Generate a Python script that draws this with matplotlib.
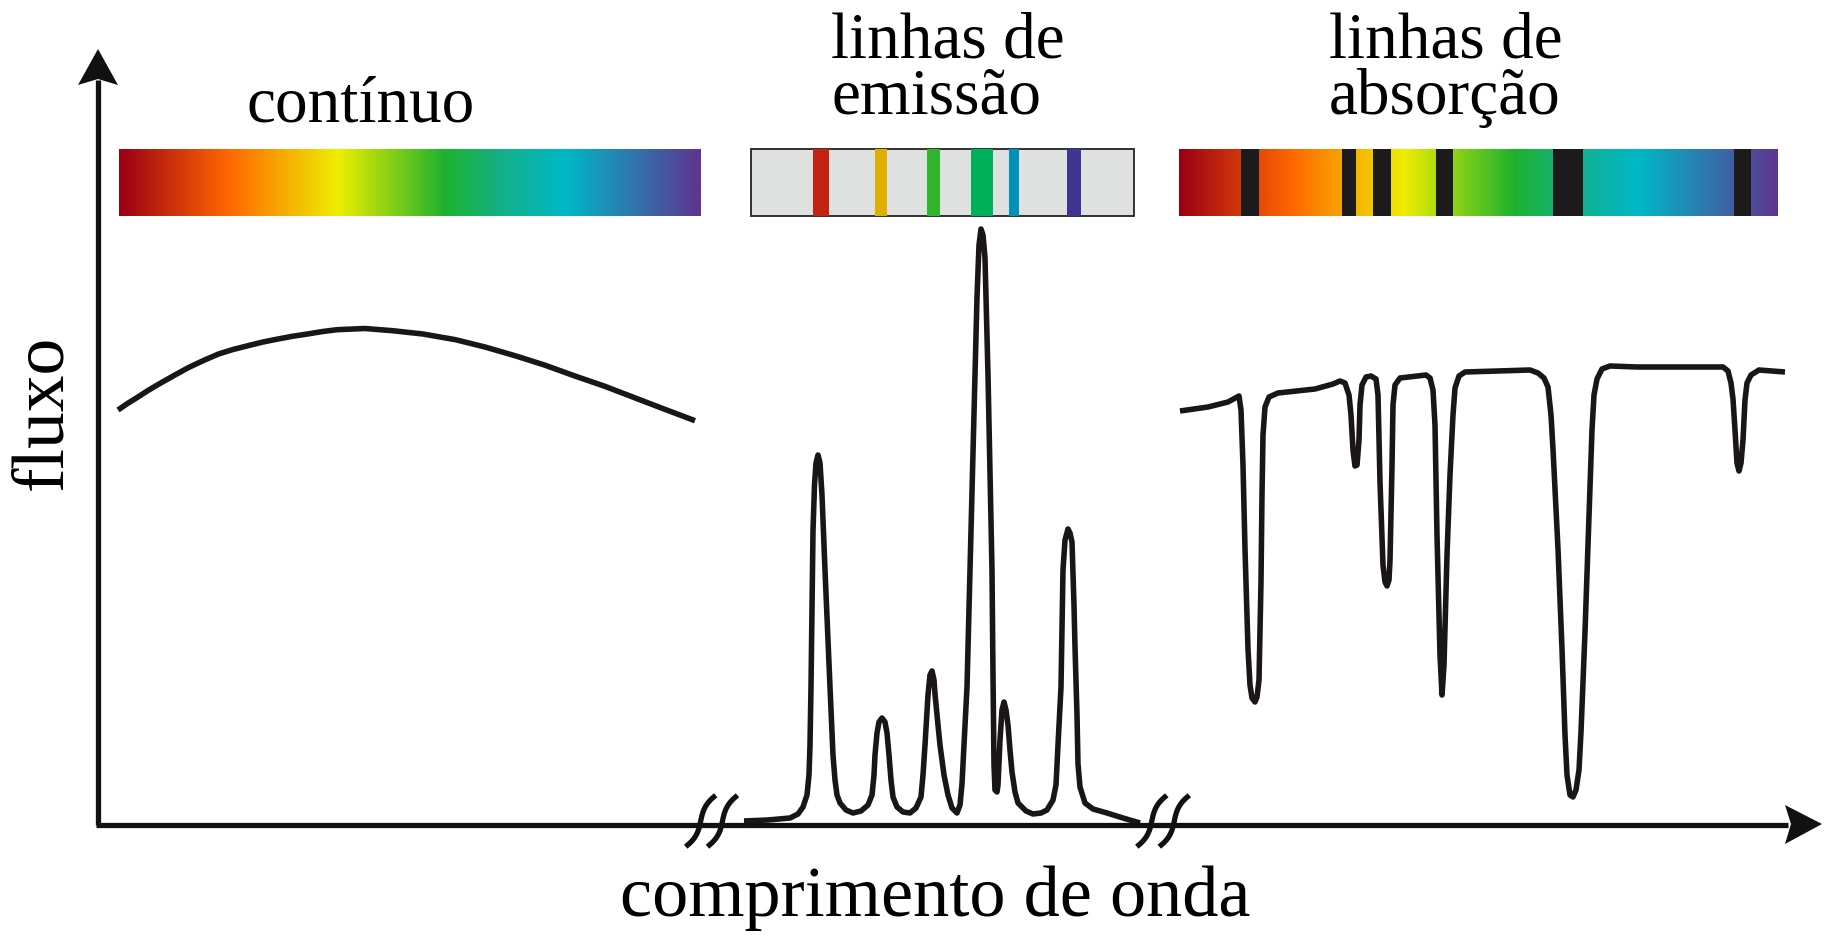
import numpy as np
import matplotlib.pyplot as plt
from matplotlib.colors import LinearSegmentedColormap
from matplotlib.patches import Polygon, Rectangle

plt.rcParams['font.family'] = ['Liberation Serif', 'DejaVu Serif']

# spectrum colour stops (position, colour)
spec_pos = [0.0, 0.185, 0.375, 0.56, 0.66, 0.77, 1.0]
spec_col = ['#9b0015', '#ff6600', '#eeee00', '#1eb22d', '#14b08a', '#00b8c8', '#5e3590']

# continuous spectrum
cont_x = [20, 29.5, 39.5, 50, 61, 76, 91, 105.5, 120.5, 135, 150, 165, 180, 195, 209.5, 224, 239,
          267, 294.5, 325, 357.5, 387, 417, 447, 476, 506, 535.5, 566, 597]
cont_y = [415, 421.5, 427.7, 434.5, 441, 449.5, 457.7, 464.5, 471, 475.5, 479.3, 483, 486, 488.8,
          491, 493.4, 495.3, 496.5, 494.3, 491, 485.3, 478, 469.3, 459.8, 449.3, 439, 427.7, 416, 404.3]

# emission spectrum
emis_x = [646, 670, 692, 700, 705, 709, 711, 712, 713, 715, 716.5, 718, 720, 722, 724, 727, 732,
          735, 737, 739, 742, 748, 755, 763, 770, 774, 776, 777, 779, 781, 784, 787, 789, 791, 793,
          795, 799, 805, 812, 818, 823, 825, 827, 830, 832, 834, 836, 837, 840, 842, 846, 850, 854,
          859, 862, 864, 866, 869, 874, 879, 881, 883, 885, 887, 890, 894, 895, 896, 897, 899, 900,
          902, 904, 906, 908, 910, 912, 914, 917, 920, 928, 935, 943, 949, 955, 958, 960, 963, 965,
          967, 970, 972, 974, 976, 977, 979, 980, 982, 987, 995, 1009, 1025, 1042]
emis_y = [4, 5, 7, 11, 18, 30, 50, 80, 138, 294, 340, 362, 370, 362, 330, 255, 138,
          70, 45, 30, 22, 15, 12, 14, 20, 30, 50, 70, 92, 103, 107, 103, 92, 70, 45,
          28, 18, 13, 12, 17, 28, 50, 80, 130, 150, 154, 145, 131, 100, 80, 50, 30, 17,
          12, 20, 41, 80, 138, 333, 528, 580, 596, 590, 567, 450, 255, 150, 60, 35, 33, 40,
          85, 115, 123, 115, 100, 75, 53, 33, 22, 14, 11, 12, 15, 25, 40, 80, 138, 255,
          285, 296, 292, 283, 220, 178, 110, 61, 38, 22, 16, 12, 7, 2]

# absorption spectrum
abs_x = [1082, 1110, 1130, 1141, 1143, 1145, 1147, 1150, 1152, 1154, 1157, 1159, 1161, 1163, 1164,
         1165, 1167, 1171, 1180, 1217, 1235, 1242, 1247, 1251, 1253, 1255, 1257, 1259, 1261, 1262,
         1264, 1268, 1273, 1278, 1280, 1282, 1285, 1287, 1289, 1291, 1292, 1294, 1295, 1297, 1302,
         1328, 1332, 1335, 1337, 1339, 1342, 1344, 1346, 1349, 1352, 1355, 1357, 1361, 1367, 1432,
         1440, 1446, 1450, 1453, 1455, 1460, 1464, 1467, 1469, 1472, 1475, 1478, 1481, 1483, 1487,
         1491, 1494, 1496, 1499, 1504, 1512, 1539, 1625, 1630, 1633, 1635, 1637, 1639, 1641, 1643,
         1645, 1647, 1649, 1653, 1661, 1687]
abs_y = [414, 418, 423, 429, 415, 360, 276, 176, 140, 127, 123, 128, 145, 243, 330,
         390, 418, 428, 432, 436, 441, 444, 442, 430, 410, 375, 359, 360, 385, 420,
         440, 448, 449, 446, 430, 343, 260, 243, 239, 245, 265, 359, 420, 440, 447,
         450, 447, 435, 400, 290, 170, 130, 160, 270, 350, 410, 437, 449, 453, 455,
         452, 447, 438, 410, 376, 276, 176, 90, 50, 30, 28, 35, 55, 93, 193,
         309, 395, 430, 446, 456, 459, 458, 458, 454, 442, 426, 395, 362, 354, 362,
         385, 425, 442, 450, 455, 453]

# emission lines in the bar: left, right, colour
emis_left = [715, 777, 829, 873, 911, 969]
emis_right = [731, 789, 842, 895, 921, 983]
emis_col = ['#c42314', '#dfae00', '#31b52c', '#00af5a', '#0090b8', '#3e3491']

# absorption bands in the bar
abs_left = [1143, 1244, 1275, 1338, 1455, 1636]
abs_right = [1161, 1258, 1293, 1355, 1485, 1653]

# spectrum bars (left, right)
bar_x = [(21, 602.5), (653, 1036), (1080.7, 1679.5)]
bar_y = (609, 676)

# axis breaks
breaks = [602.7, 624.5, 1053.8, 1076.3]

fig = plt.figure(figsize=(18.27, 9.37), dpi=100)
ax = fig.add_axes([0, 0, 1, 1])
ax.axis('off')

spec_cmap = LinearSegmentedColormap.from_list('spec', list(zip(spec_pos, spec_col)))
grad = np.linspace(0, 1, 600).reshape(1, -1)

# continuum bar
ax.imshow(grad, cmap=spec_cmap, extent=[bar_x[0][0], bar_x[0][1], bar_y[0], bar_y[1]],
          aspect='auto', interpolation='bilinear', zorder=1)

# emission bar
ax.add_patch(Rectangle((bar_x[1][0], bar_y[0]), bar_x[1][1] - bar_x[1][0], bar_y[1] - bar_y[0],
                       facecolor='#dfe0e0', edgecolor='#222222', lw=1.3, zorder=1))
for l, r, c in zip(emis_left, emis_right, emis_col):
    ax.bar((l + r) / 2, bar_y[1] - bar_y[0], width=r - l, bottom=bar_y[0], color=c, zorder=2)

# absorption bar
ax.imshow(grad, cmap=spec_cmap, extent=[bar_x[2][0], bar_x[2][1], bar_y[0], bar_y[1]],
          aspect='auto', interpolation='bilinear', zorder=1)
for l, r in zip(abs_left, abs_right):
    ax.bar((l + r) / 2, bar_y[1] - bar_y[0], width=r - l, bottom=bar_y[0], color='#1c1a1a', zorder=2)

# spectra
kw = dict(color='#1a1616', lw=4.0, solid_joinstyle='round', solid_capstyle='butt', zorder=3)
ax.plot(cont_x, cont_y, **kw)
ax.plot(emis_x, emis_y, **kw)
ax.plot(abs_x, abs_y, **kw)

# axes with arrows
ax.plot([0, 0], [0, 745], color='#111111', lw=3.8, solid_capstyle='butt', zorder=3)
ax.plot([-2, 1690], [0, 0], color='#111111', lw=3.8, solid_capstyle='butt', zorder=3)
ax.add_patch(Polygon([(0, 776), (-20, 740), (0, 746), (20, 740)], closed=True,
                     facecolor='#111111', edgecolor='none', zorder=4))
ax.add_patch(Polygon([(1724, 1), (1687, 20), (1693, 1), (1687, -19)], closed=True,
                     facecolor='#111111', edgecolor='none', zorder=4))

# break marks
t = np.linspace(-1, 1, 40)
for b in breaks:
    ax.plot(b + 5 * t + 8 * t ** 3, 4 + 24 * t, color='#111111', lw=3.8, zorder=4)

# labels
ax.text(263, 705, 'contínuo', fontsize=47, ha='center', va='baseline')
ax.text(733, 768, 'linhas de', fontsize=47, ha='left', va='baseline')
ax.text(733, 712, 'emissão', fontsize=47, ha='left', va='baseline')
ax.text(1231, 768, 'linhas de', fontsize=47, ha='left', va='baseline')
ax.text(1231, 712, 'absorção', fontsize=47, ha='left', va='baseline')
ax.text(837, -90, 'comprimento de onda', fontsize=52, ha='center', va='baseline')
ax.text(-54, 414, 'fluxo', fontsize=53, ha='center', va='center', rotation=90)

ax.set_xlim(-98, 1729)
ax.set_ylim(-111, 826)

fig.savefig('out.png', dpi=100)
